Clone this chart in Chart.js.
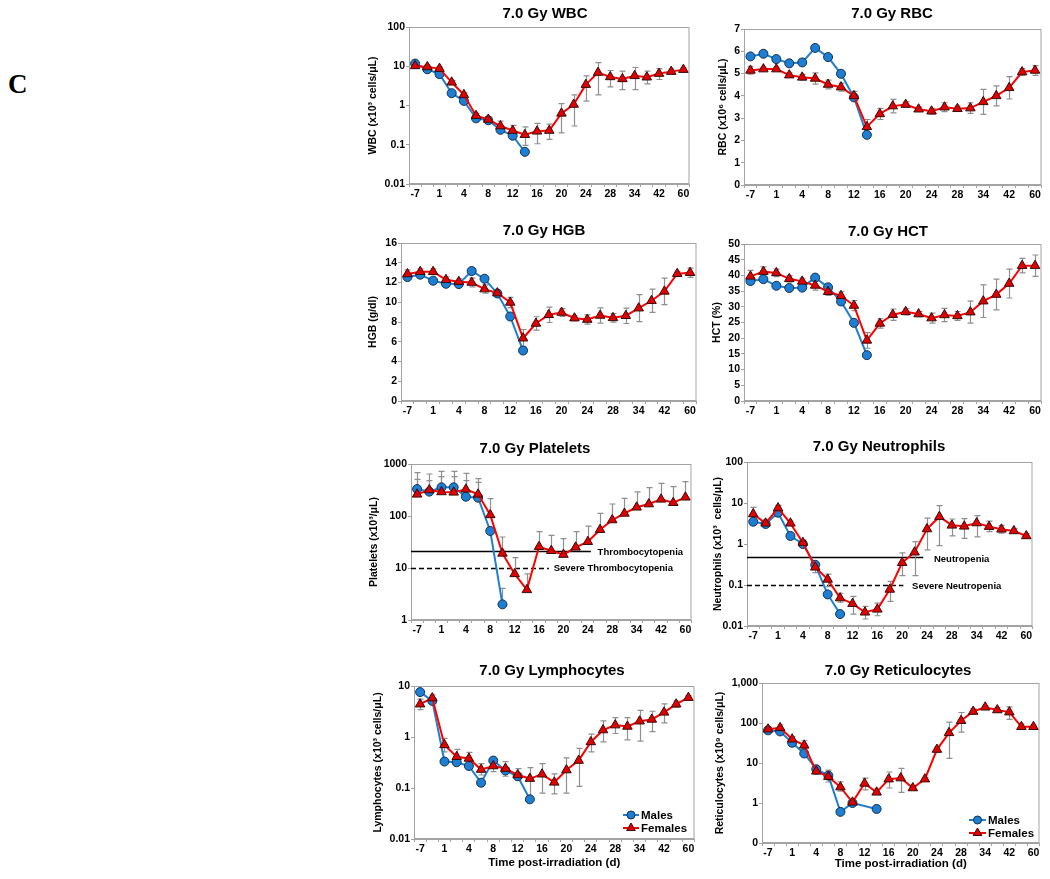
<!DOCTYPE html>
<html>
<head>
<meta charset="utf-8">
<script src="https://cdn.jsdelivr.net/npm/chart.js@4.4.1/dist/chart.umd.min.js"></script>
<style>
html, body { margin: 0; padding: 0; background: #fff; }
body { width: 1050px; height: 879px; position: relative; overflow: hidden; }
canvas { position: absolute; }
#panelLetter { position: absolute; left: 8px; top: 71px; font: bold 27px 'Liberation Serif', 'Times New Roman', serif; line-height: 1; }
</style>
</head>
<body>
<div id="panelLetter">C</div>
<script>
// x categories (only every other one is labelled on the axis)
const days = ['-7', '', '1', '', '4', '', '8', '', '12', '', '16', '', '20', '', '24', '', '28', '', '34', '', '42', '', '60'];

// WBC (log)
const wbcTicks = [0.01, 0.1, 1, 10, 100];
const wbcTickLabels = ['0.01', '0.1', '1', '10', '100'];
const wbcMales = [11.7, 8.4, 6.3, 2.06, 1.31, 0.47, 0.42, 0.24, 0.17, 0.066];
const wbcFemales = [10.2, 9.6, 8.7, 3.9, 1.87, 0.55, 0.44, 0.30, 0.23, 0.18, 0.22, 0.23, 0.63, 1.06, 3.4, 6.9, 5.35, 4.76, 5.7, 5.25, 6.5, 7.3, 8.2];
const wbcFemLo = [8.9, 8.5, 7.7, 3.5, 1.65, 0.50, 0.36, 0.22, 0.176, 0.096, 0.106, 0.137, 0.20, 0.30, 1.29, 1.87, 2.98, 2.55, 2.55, 3.55, 4.6, 6.4, 7.3];
const wbcFemHi = [11.7, 10.8, 9.8, 4.3, 2.1, 0.63, 0.52, 0.40, 0.31, 0.287, 0.35, 0.335, 1.12, 1.87, 5.7, 12.4, 7.8, 7.5, 9.3, 7.5, 8.7, 8.4, 9.1];

// RBC (linear)
const rbcTicks = [0, 1, 2, 3, 4, 5, 6, 7];
const rbcTickLabels = ['0', '1', '2', '3', '4', '5', '6', '7'];
const rbcMales = [5.77, 5.89, 5.65, 5.46, 5.50, 6.15, 5.74, 4.99, 3.93, 2.25];
const rbcFemales = [5.14, 5.20, 5.20, 4.93, 4.83, 4.78, 4.51, 4.39, 4.0, 2.61, 3.19, 3.54, 3.61, 3.40, 3.31, 3.49, 3.42, 3.45, 3.73, 4.0, 4.36, 5.07, 5.14];
const rbcFemSd = [0.17, 0.08, 0.08, 0.1, 0.13, 0.25, 0.2, 0.18, 0.2, 0.33, 0.25, 0.3, 0.12, 0.1, 0.13, 0.2, 0.12, 0.24, 0.56, 0.45, 0.5, 0.15, 0.22];

// HGB (linear)
const hgbTicks = [0, 2, 4, 6, 8, 10, 12, 14, 16];
const hgbTickLabels = ['0', '2', '4', '6', '8', '10', '12', '14', '16'];
const hgbMales = [12.55, 12.79, 12.18, 11.87, 11.84, 13.16, 12.38, 10.89, 8.56, 5.11];
const hgbFemales = [12.86, 13.09, 13.09, 12.28, 12.08, 12.0, 11.33, 10.93, 9.98, 6.36, 7.85, 8.73, 8.96, 8.39, 8.25, 8.66, 8.42, 8.63, 9.4, 10.15, 11.1, 12.89, 12.99];
const hgbFemSd = [0.42, 0.3, 0.3, 0.3, 0.3, 0.45, 0.42, 0.3, 0.52, 0.88, 0.68, 0.78, 0.39, 0.25, 0.47, 0.78, 0.44, 0.78, 1.37, 1.18, 1.35, 0.25, 0.47];

// HCT (linear)
const hctTicks = [0, 5, 10, 15, 20, 25, 30, 35, 40, 45, 50];
const hctTickLabels = ['0', '5', '10', '15', '20', '25', '30', '35', '40', '45', '50'];
const hctMales = [38.2, 38.8, 36.7, 36.0, 36.1, 39.3, 36.2, 31.7, 24.9, 14.6];
const hctFemales = [39.7, 41.2, 40.8, 38.9, 38.1, 36.8, 34.8, 33.5, 30.4, 19.3, 24.7, 27.5, 28.4, 27.7, 26.4, 27.4, 27.1, 28.3, 31.8, 33.9, 37.4, 43.1, 43.1];
const hctFemSd = [1.9, 1.5, 1.2, 1.0, 1.0, 1.5, 1.2, 1.3, 1.6, 2.5, 1.5, 1.8, 1.0, 0.8, 1.6, 2.1, 1.4, 3.5, 5.2, 4.9, 4.6, 2.3, 3.4];

// Platelets (log, upper error bars only)
const pltTicks = [1, 10, 100, 1000];
const pltTickLabels = ['1', '10', '100', '1000'];
const pltMales = [330, 294, 356, 356, 235, 225, 51.5, 2.0];
const pltMalHi = [681, 642, 722, 722, 662, 522, null, 4.06];
const pltFemales = [261, 316, 290, 285, 326, 261, 105, 19.1, 7.7, 3.8, 25.7, 21.5, 18.1, 25, 32, 54.6, 83.7, 112, 147, 170, 209, 180, 229];
const pltFemHi = [507, 478, 571, 571, 478, 444, 215, 39.5, 15.8, 7.7, 50, 42.5, 36.6, 50, 64, 112, 170, 219, 290, 350, 425, 366, 457];
const pltThresholds = [21, 10];
const pltThresholdLabels = ['Thrombocytopenia', 'Severe Thrombocytopenia'];

// Neutrophils (log)
const neuTicks = [0.01, 0.1, 1, 10, 100];
const neuTickLabels = ['0.01', '0.1', '1', '10', '100'];
const neuMales = [3.5, 3.08, 5.8, 1.57, 1.0, 0.31, 0.059, 0.0196];
const neuFemales = [5.4, 3.2, 7.55, 3.2, 1.08, 0.27, 0.137, 0.048, 0.035, 0.0216, 0.0255, 0.078, 0.35, 0.63, 2.32, 4.64, 2.85, 2.7, 3.25, 2.65, 2.28, 2.08, 1.57];
const neuFemLo = [4.1, 2.8, 6.5, 2.85, 0.91, 0.20, 0.091, 0.038, 0.0195, 0.0148, 0.0178, 0.040, 0.17, 0.17, 0.72, 0.91, 1.57, 1.37, 1.5, 2.0, 1.85, 1.9, 1.4];
const neuFemHi = [7.8, 3.7, 8.8, 3.6, 1.25, 0.36, 0.185, 0.063, 0.053, 0.030, 0.036, 0.123, 0.61, 1.14, 4.3, 8.6, 4.07, 4.15, 4.9, 3.6, 2.85, 2.36, 1.8];
const neuThresholds = [0.48, 0.1];
const neuThresholdLabels = ['Neutropenia', 'Severe Neutropenia'];

// Lymphocytes (log)
const lymTicks = [0.01, 0.1, 1, 10];
const lymTickLabels = ['0.01', '0.1', '1', '10'];
const lymMales = [7.6, 5.1, 0.33, 0.32, 0.27, 0.127, 0.345, 0.22, 0.17, 0.06];
const lymFemales = [4.4, 5.8, 0.70, 0.41, 0.38, 0.23, 0.27, 0.24, 0.18, 0.153, 0.186, 0.129, 0.225, 0.345, 0.80, 1.37, 1.71, 1.61, 2.04, 2.21, 3.04, 4.4, 5.9];
const lymFemLo = [3.45, 4.7, 0.51, 0.31, 0.29, 0.18, 0.21, 0.17, 0.144, 0.063, 0.079, 0.077, 0.079, 0.108, 0.51, 0.80, 1.17, 0.88, 0.83, 1.27, 1.89, 3.8, 5.4];
const lymFemHi = [5.55, 6.7, 0.94, 0.57, 0.50, 0.30, 0.33, 0.33, 0.24, 0.25, 0.30, 0.19, 0.39, 0.60, 1.14, 2.08, 2.4, 2.4, 3.34, 3.2, 4.45, 5.05, 6.5];

// Reticulocytes (log, bottom tick 0.1 shown as "0")
const retTicks = [0.1, 1, 10, 100, 1000];
const retTickLabels = ['0', '1', '10', '100', '1,000'];
const retMales = [65.6, 61.6, 32, 17.3, 7.0, 4.85, 0.6, 1.0, null, 0.71];
const retFemales = [69.7, 75.7, 39.3, 27.7, 6.2, 4.56, 2.5, 1.04, 3.09, 1.85, 3.95, 4.2, 2.37, 3.95, 21.7, 56.8, 114, 194, 248, 211, 187, 80.5, 80.5];
const retFemLo = [60, 67, 34, 22.5, 5.2, 3.35, 1.97, 0.94, 2.13, 1.67, 2.37, 1.85, 2.14, 3.57, 18.8, 13, 59, 165, 215, 183, 123, 70, 73];
const retFemHi = [80, 89, 46, 36, 7.6, 6.6, 3.4, 1.15, 4.2, 2.22, 5.95, 7.3, 2.6, 4.4, 25, 105, 183, 228, 273, 243, 254, 94.5, 88];

const seriesNames = ['Males', 'Females'];

// ---- styling ----
Chart.defaults.font.family = "'Liberation Sans', Arial, sans-serif";
Chart.defaults.color = '#000';
const AX = '#a3a3a3';
const ERR = '#8f8f8f';
const MALE_LINE = '#1f80d0', MALE_FILL = '#1d7fd4', MALE_EDGE = '#16304f';
const FEM_LINE = '#ff0000', FEM_FILL = '#e00000', FEM_EDGE = '#3a0a0a';
const TICK_FONT = { size: 10.5, weight: 'bold', lineHeight: 1.2 };

const pm = (v, sd, s) => v.map((x, i) => x + s * sd[i]);

const panels = [
    { id: 'wbc', title: '7.0 Gy WBC', yTitle: 'WBC (x10³ cells/μL)', type: 'logarithmic',
      ticks: wbcTicks, tickLabels: wbcTickLabels, males: wbcMales, females: wbcFemales, femLo: wbcFemLo, femHi: wbcFemHi,
      box: { l: 409, t: 27, r: 691, b: 184 }, yTitleX: 373, titleX: 545, titleY: 14 },
    { id: 'rbc', title: '7.0 Gy RBC', yTitle: 'RBC (x10⁶ cells/μL)', type: 'linear',
      ticks: rbcTicks, tickLabels: rbcTickLabels, males: rbcMales, females: rbcFemales,
      femLo: pm(rbcFemales, rbcFemSd, -1), femHi: pm(rbcFemales, rbcFemSd, 1),
      box: { l: 744, t: 29, r: 1043, b: 185 }, yTitleX: 723, titleX: 892, titleY: 14 },
    { id: 'hgb', title: '7.0 Gy HGB', yTitle: 'HGB (g/dl)', type: 'linear',
      ticks: hgbTicks, tickLabels: hgbTickLabels, males: hgbMales, females: hgbFemales,
      femLo: pm(hgbFemales, hgbFemSd, -1), femHi: pm(hgbFemales, hgbFemSd, 1),
      box: { l: 401, t: 243, r: 698, b: 401 }, yTitleX: 373, titleX: 544, titleY: 231 },
    { id: 'hct', title: '7.0 Gy HCT', yTitle: 'HCT (%)', type: 'linear',
      ticks: hctTicks, tickLabels: hctTickLabels, males: hctMales, females: hctFemales,
      femLo: pm(hctFemales, hctFemSd, -1), femHi: pm(hctFemales, hctFemSd, 1),
      box: { l: 744, t: 244, r: 1043, b: 401 }, yTitleX: 717, titleX: 888, titleY: 232 },
    { id: 'plt', title: '7.0 Gy Platelets', yTitle: 'Platelets (x10³/μL)', type: 'logarithmic',
      ticks: pltTicks, tickLabels: pltTickLabels, males: pltMales, malHi: pltMalHi, females: pltFemales, femHi: pltFemHi,
      box: { l: 411, t: 464, r: 693, b: 620 }, yTitleX: 374, titleX: 535, titleY: 449,
      thresholds: [
          { value: pltThresholds[0], label: pltThresholdLabels[0], end: 14.25, labelAt: 14.8, dy: 1, dash: [] },
          { value: pltThresholds[1], label: pltThresholdLabels[1], end: 10.8, labelAt: 11.2, dy: 0, dash: [5, 3] }
      ] },
    { id: 'neu', title: '7.0 Gy Neutrophils', yTitle: 'Neutrophils (x10³  cells/μL)', type: 'logarithmic',
      ticks: neuTicks, tickLabels: neuTickLabels, males: neuMales, females: neuFemales, femLo: neuFemLo, femHi: neuFemHi,
      box: { l: 747, t: 462, r: 1034, b: 626 }, yTitleX: 718, titleX: 879, titleY: 447,
      thresholds: [
          { value: neuThresholds[0], label: neuThresholdLabels[0], end: 13.7, labelAt: 14.56, dy: 2, dash: [] },
          { value: neuThresholds[1], label: neuThresholdLabels[1], end: 12.1, labelAt: 12.8, dy: 1, dash: [5, 3] }
      ] },
    { id: 'lym', title: '7.0 Gy Lymphocytes', yTitle: 'Lymphocytes (x10³ cells/μL)', type: 'logarithmic',
      ticks: lymTicks, tickLabels: lymTickLabels, males: lymMales, females: lymFemales, femLo: lymFemLo, femHi: lymFemHi,
      box: { l: 414, t: 686, r: 696, b: 839 }, yTitleX: 378, titleX: 552, titleY: 671, xTitleY: 863,
      legend: { x0: 623, x1: 639, tx: 641, y: [815, 828] } },
    { id: 'ret', title: '7.0 Gy Reticulocytes', yTitle: 'Reticulocytes (x10⁹ cells/μL)', type: 'logarithmic',
      ticks: retTicks, tickLabels: retTickLabels, males: retMales, females: retFemales, femLo: retFemLo, femHi: retFemHi,
      box: { l: 762, t: 683, r: 1041, b: 843 }, yTitleX: 720, titleX: 898, titleY: 671, xTitleY: 864,
      legend: { x0: 969, x1: 986, tx: 988, y: [820, 833] } }
];

const panelCfg = {};

function drawMarker(ctx, style, x, y, r, fill, edge) {
    ctx.beginPath();
    if (style === 'circle') {
        ctx.arc(x, y, r, 0, Math.PI * 2);
    } else {
        for (let k = 0; k < 3; k++) {
            const a = k * 2 * Math.PI / 3;
            const px = x + Math.sin(a) * r, py = y - Math.cos(a) * r;
            if (k === 0) ctx.moveTo(px, py); else ctx.lineTo(px, py);
        }
        ctx.closePath();
    }
    ctx.fillStyle = fill;
    ctx.fill();
    ctx.lineWidth = 1;
    ctx.strokeStyle = edge;
    ctx.stroke();
}

const panelPlugin = {
    id: 'panelDeco',
    beforeDatasetsDraw(chart) {
        const p = panelCfg[chart.canvas.id];
        const { ctx, chartArea: a } = chart;
        const xs = chart.scales.x, ys = chart.scales.y;
        ctx.save();
        // plot area frame
        ctx.strokeStyle = AX;
        ctx.lineWidth = 1;
        ctx.strokeRect(a.left + 0.5, a.top + 0.5, a.width - 1, a.height - 1);

        // threshold lines
        (p.thresholds || []).forEach(t => {
            const y = Math.round(ys.getPixelForValue(t.value)) + 0.5;
            ctx.beginPath();
            ctx.setLineDash(t.dash);
            ctx.strokeStyle = '#000';
            ctx.lineWidth = 1.6;
            ctx.moveTo(a.left, y);
            ctx.lineTo(xs.getPixelForValue(t.end), y);
            ctx.stroke();
        });
        ctx.setLineDash([]);

        // error bars
        ctx.strokeStyle = ERR;
        ctx.lineWidth = 1.2;
        chart.data.datasets.forEach(ds => {
            if (!ds.errHi) return;
            ds.data.forEach((v, i) => {
                if (v == null) return;
                const hi = ds.errHi[i] == null ? v : ds.errHi[i];
                const lo = ds.errLo ? ds.errLo[i] : v;
                const x = Math.round(xs.getPixelForValue(i)) + 0.5;
                const y1 = ys.getPixelForValue(hi), y2 = ys.getPixelForValue(lo);
                ctx.beginPath();
                ctx.moveTo(x, y1); ctx.lineTo(x, y2);
                if (hi !== v) { ctx.moveTo(x - 3, y1); ctx.lineTo(x + 3, y1); }
                if (lo !== v) { ctx.moveTo(x - 3, y2); ctx.lineTo(x + 3, y2); }
                ctx.stroke();
            });
        });
        ctx.restore();
    },
    afterDraw(chart) {
        const p = panelCfg[chart.canvas.id];
        const { ctx } = chart;
        const xs = chart.scales.x, ys = chart.scales.y;
        ctx.save();
        // chart title
        ctx.fillStyle = '#000';
        ctx.font = "bold 15px 'Liberation Sans', Arial, sans-serif";
        ctx.textAlign = 'center';
        ctx.textBaseline = 'middle';
        ctx.fillText(p.title, p.titleX - p.cl, p.titleY - p.ct);

        // threshold labels
        ctx.font = "bold 9.5px 'Liberation Sans', Arial, sans-serif";
        ctx.textAlign = 'left';
        (p.thresholds || []).forEach(t => {
            ctx.fillText(t.label, xs.getPixelForValue(t.labelAt), ys.getPixelForValue(t.value) + t.dy);
        });

        // legend
        if (p.legend) {
            const L = p.legend;
            const items = [
                { name: seriesNames[0], line: MALE_LINE, style: 'circle', r: 4, fill: MALE_FILL, edge: MALE_EDGE },
                { name: seriesNames[1], line: FEM_LINE, style: 'triangle', r: 5, fill: FEM_FILL, edge: FEM_EDGE }
            ];
            ctx.font = "bold 11.5px 'Liberation Sans', Arial, sans-serif";
            items.forEach((it, k) => {
                const y = L.y[k] - p.ct;
                const x0 = L.x0 - p.cl, x1 = L.x1 - p.cl;
                ctx.beginPath();
                ctx.strokeStyle = it.line;
                ctx.lineWidth = 2;
                ctx.moveTo(x0, y); ctx.lineTo(x1, y);
                ctx.stroke();
                drawMarker(ctx, it.style, (x0 + x1) / 2, y, it.r, it.fill, it.edge);
                ctx.fillStyle = '#000';
                ctx.fillText(it.name, L.tx - p.cl, y + 0.5);
            });
        }
        ctx.restore();
    }
};

panels.forEach(p => {
    const TT = 26, RP = 5;
    const bx = p.xTitleY ? Math.round(p.xTitleY + 6.9 - p.box.b) : 20;
    const cl = Math.round(p.yTitleX - 6.3);
    const ct = p.box.t - TT;
    const ly = p.box.l - cl;
    const w = ly + (p.box.r - p.box.l) + RP;
    const h = TT + (p.box.b - p.box.t) + bx;
    p.cl = cl; p.ct = ct;
    panelCfg[p.id] = p;

    const cv = document.createElement('canvas');
    cv.id = p.id;
    cv.width = w; cv.height = h;
    cv.style.left = cl + 'px'; cv.style.top = ct + 'px';
    cv.style.width = w + 'px'; cv.style.height = h + 'px';
    document.body.appendChild(cv);

    new Chart(cv, {
        type: 'line',
        data: {
            labels: days,
            datasets: [
                { label: seriesNames[1], data: p.females, errLo: p.femLo, errHi: p.femHi,
                  borderColor: FEM_LINE, backgroundColor: FEM_FILL, borderWidth: 2,
                  pointStyle: 'triangle', pointRadius: 5.5, pointBackgroundColor: FEM_FILL,
                  pointBorderColor: FEM_EDGE, pointBorderWidth: 1, spanGaps: true, order: 0 },
                { label: seriesNames[0], data: p.males, errHi: p.malHi,
                  borderColor: MALE_LINE, backgroundColor: MALE_FILL, borderWidth: 2,
                  pointStyle: 'circle', pointRadius: 4.5, pointBackgroundColor: MALE_FILL,
                  pointBorderColor: MALE_EDGE, pointBorderWidth: 1, spanGaps: true, order: 1 }
            ]
        },
        options: {
            responsive: false,
            animation: false,
            devicePixelRatio: 1,
            layout: { padding: { top: TT, right: RP, left: 0, bottom: 0 } },
            plugins: { legend: { display: false }, tooltip: { enabled: false }, title: { display: false } },
            elements: { line: { tension: 0 } },
            scales: {
                x: {
                    type: 'category',
                    offset: true,
                    grid: { offset: true, drawOnChartArea: false, drawTicks: true, tickLength: 3, color: AX },
                    border: { display: true, color: AX, width: 1 },
                    ticks: { autoSkip: false, maxRotation: 0, minRotation: 0, padding: 1, font: TICK_FONT, color: '#000',
                             callback: (v, i) => days[i] },
                    title: p.xTitleY
                        ? { display: true, text: 'Time post-irradiation (d)', padding: 0, color: '#000',
                            font: { size: 11.5, weight: 'bold', lineHeight: 1.2 } }
                        : { display: false },
                    afterFit: s => { s.height = bx; }
                },
                y: {
                    type: p.type,
                    min: p.ticks[0],
                    max: p.ticks[p.ticks.length - 1],
                    grid: { drawOnChartArea: false, drawTicks: true, tickLength: 3, color: AX },
                    border: { display: true, color: AX, width: 1 },
                    ticks: { autoSkip: false, padding: 1, font: TICK_FONT, color: '#000',
                             callback: (v, i) => p.tickLabels[i] },
                    afterBuildTicks: s => { s.ticks = p.ticks.map(v => ({ value: v })); },
                    title: { display: true, text: p.yTitle, padding: 0, color: '#000',
                             font: { size: 10.5, weight: 'bold', lineHeight: 1.2 } },
                    afterFit: s => { s.width = ly; }
                }
            }
        },
        plugins: [panelPlugin]
    });
});
</script>
</body>
</html>
